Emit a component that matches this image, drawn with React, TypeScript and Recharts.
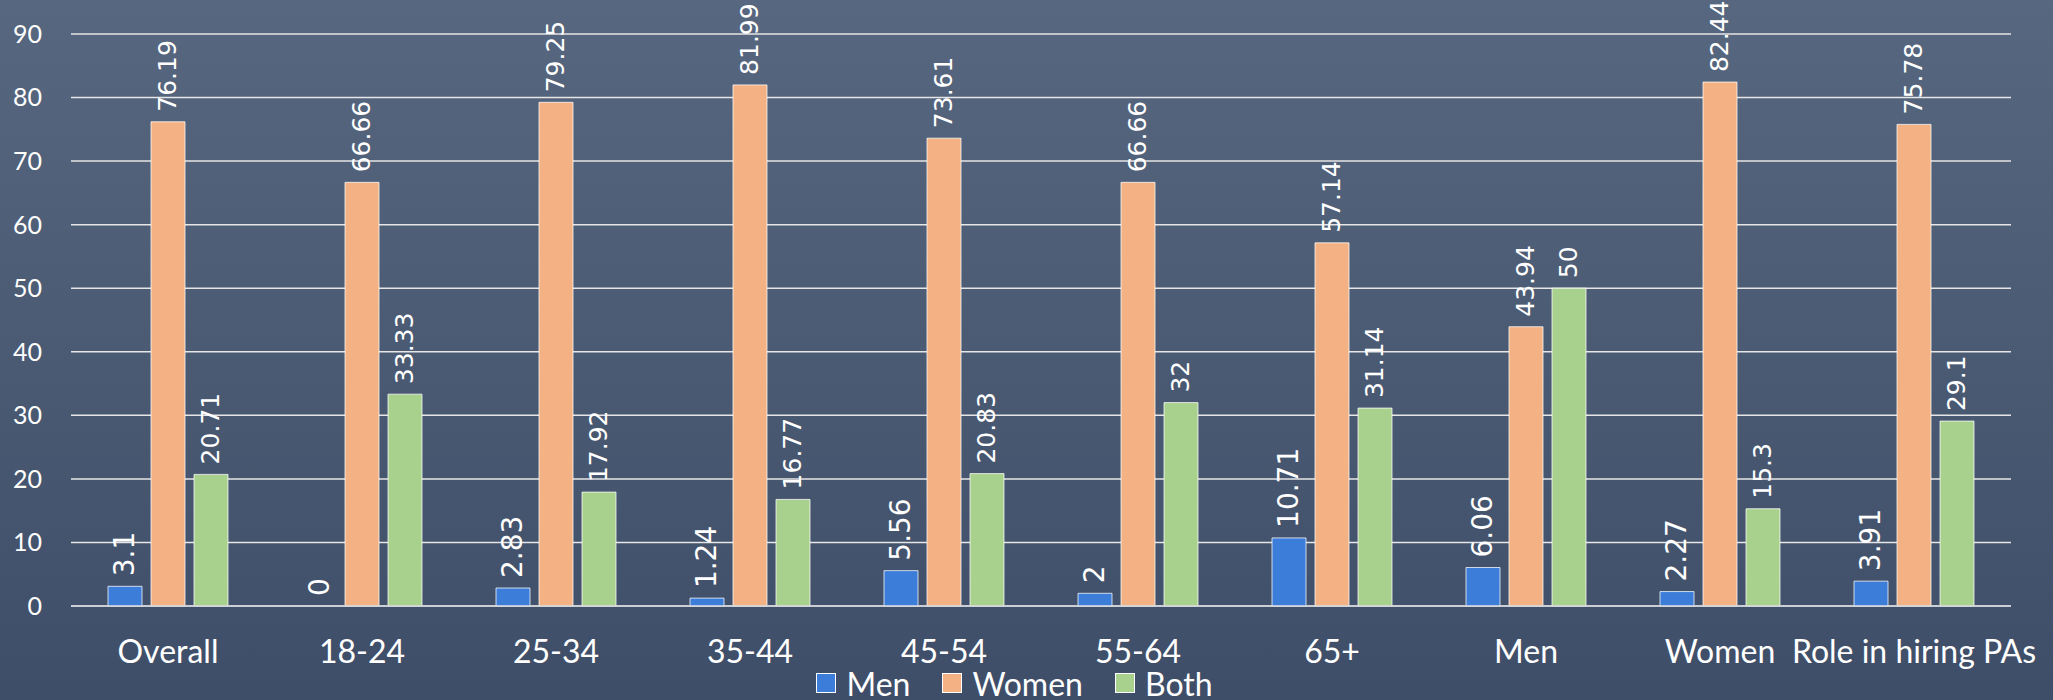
import React from 'react';
import { BarChart, Bar, XAxis, YAxis, CartesianGrid, Legend, LabelList, Rectangle } from 'recharts';

const categories = ['Overall', '18-24', '25-34', '35-44', '45-54', '55-64', '65+', 'Men', 'Women', 'Role in hiring PAs'];
const menValues = [3.1, 0, 2.83, 1.24, 5.56, 2, 10.71, 6.06, 2.27, 3.91];
const womenValues = [76.19, 66.66, 79.25, 81.99, 73.61, 66.66, 57.14, 43.94, 82.44, 75.78];
const bothValues = [20.71, 33.33, 17.92, 16.77, 20.83, 32, 31.14, 50, 15.3, 29.1];
const yTicks = [0, 10, 20, 30, 40, 50, 60, 70, 80, 90];

const seriesList = [
  { key: 'Men', color: '#3c7dd9', labelSize: 28 },
  { key: 'Women', color: '#f4b183', labelSize: 25 },
  { key: 'Both', color: '#a9d18e', labelSize: 25 },
];

const data = categories.map((name, i) => ({
  name,
  Men: menValues[i],
  Women: womenValues[i],
  Both: bothValues[i],
}));

const renderValue = (x: number, y: number, width: number, value: any, fontSize: number) => {
  const cx = x + width / 2;
  const ty = y - 10;
  return (
    <text
      x={cx}
      y={ty}
      transform={`rotate(-90, ${cx}, ${ty})`}
      textAnchor="start"
      dominantBaseline="central"
      fill="#ffffff"
      fontSize={fontSize}
      fontFamily="DejaVu Sans"
    >
      {value}
    </text>
  );
};

const makeLabel = (fontSize: number) => (props: any) =>
  renderValue(Number(props.x), Number(props.y), Number(props.width), props.value, fontSize);

// Men bars draw their own label so the zero value still gets one
const menShape = (props: any) => {
  const { x, y, width, height, fill, Men } = props;
  return (
    <g>
      {height > 0 && (
        <Rectangle x={x} y={y} width={width} height={height} fill={fill} stroke="#ffffff" strokeOpacity={0.75} strokeWidth={1} />
      )}
      {renderValue(Number(x), Number(y), Number(width), Men, 28)}
    </g>
  );
};

const LegendBox = () => (
  <div
    style={{
      display: 'flex',
      justifyContent: 'center',
      alignItems: 'center',
      height: 34,
      transform: 'translateX(9px)',
      fontFamily: 'Lato',
      fontSize: 32,
      color: '#ffffff',
    }}
  >
    {seriesList.map((s, i) => (
      <div key={s.key} style={{ display: 'flex', alignItems: 'center', marginLeft: i === 0 ? 0 : 32 }}>
        <span
          style={{
            display: 'inline-block',
            width: 18,
            height: 18,
            background: s.color,
            border: '1px solid #ffffff',
            marginRight: 10,
          }}
        />
        <span>{s.key}</span>
      </div>
    ))}
  </div>
);

export default function App() {
  return (
    <div
      style={{
        position: 'absolute',
        top: 0,
        left: 0,
        width: 2053,
        height: 700,
        background: 'linear-gradient(#57677f, #3f4e68)',
        overflow: 'hidden',
      }}
    >
      <BarChart
        width={2053}
        height={700}
        data={data}
        margin={{ top: 34, right: 42, left: 0, bottom: 0 }}
        barSize={34}
        barGap={9}
      >
        <CartesianGrid vertical={false} stroke="#e6e6e6" strokeWidth={1.5} />
        <XAxis
          dataKey="name"
          height={60}
          tickLine={false}
          axisLine={{ stroke: '#d0d4da', strokeWidth: 1.5 }}
          tickMargin={28}
          interval={0}
          tick={{ fill: '#ffffff', fontSize: 32, fontFamily: 'Lato' }}
        />
        <YAxis
          width={71}
          domain={[0, 90]}
          ticks={yTicks}
          axisLine={false}
          tickLine={false}
          tickMargin={23}
          tick={{ fill: '#ffffff', fontSize: 25, fontFamily: 'Lato' }}
        />
        <Legend verticalAlign="bottom" content={<LegendBox />} />
        <Bar dataKey="Men" fill="#3c7dd9" shape={menShape} isAnimationActive={false} />
        {seriesList.slice(1).map((s) => (
          <Bar
            key={s.key}
            dataKey={s.key}
            fill={s.color}
            stroke="#ffffff"
            strokeOpacity={0.75}
            strokeWidth={1}
            isAnimationActive={false}
          >
            <LabelList dataKey={s.key} content={makeLabel(s.labelSize)} />
          </Bar>
        ))}
      </BarChart>
    </div>
  );
}
